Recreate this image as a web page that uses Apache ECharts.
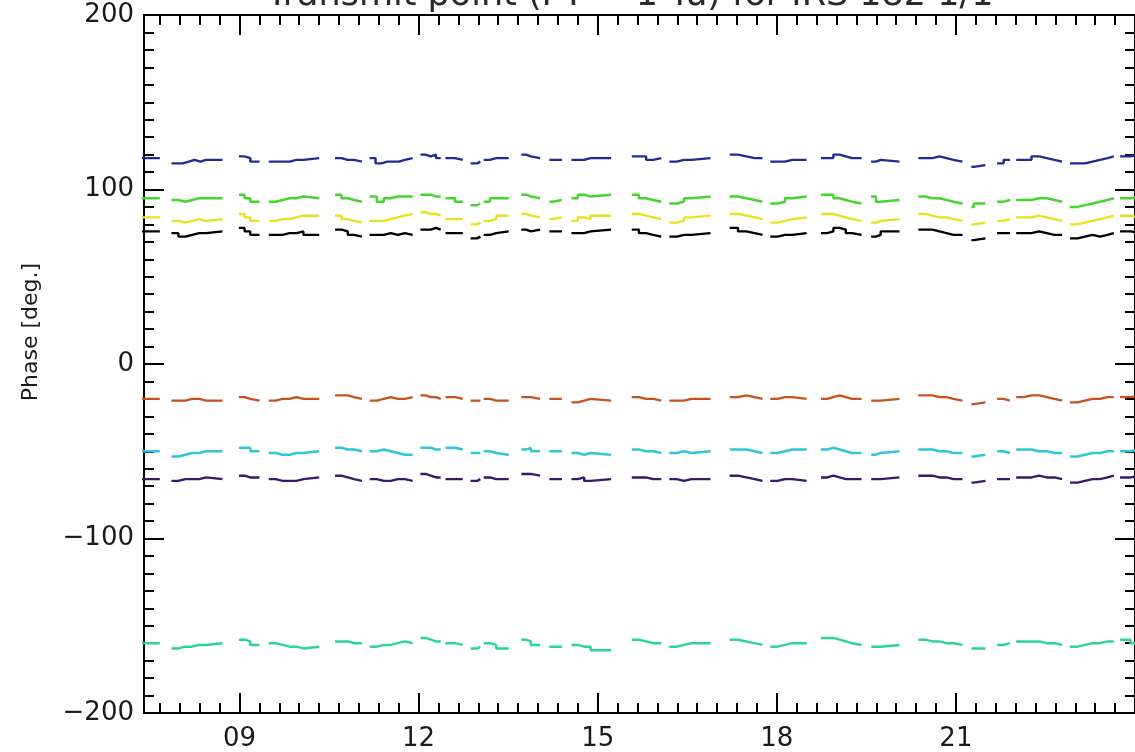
<!DOCTYPE html>
<html>
<head>
<meta charset="utf-8">
<script src="https://cdn.jsdelivr.net/npm/echarts@6/dist/echarts.min.js"></script>
<style>html,body{margin:0;padding:0;background:#fff}#c{width:1135px;height:752px}</style>
</head>
<body>
<div id="c"></div>
<script>
const titleText = 'Transmit point (PT = 1 Tu) for IRS 182 1/1';
const yName = 'Phase [deg.]';
const xTickVals = [9, 12, 15, 18, 21];
const xTickLabels = ['09', '12', '15', '18', '21'];
const yTickLabels = {'200': '200', '100': '100', '0': '0', '-100': '\u2212100', '-200': '\u2212200'};

// observation segments (hours UT): start / end
const segStart = [7.30, 7.86, 8.99, 9.49, 10.60, 11.18, 12.03, 12.45, 12.87, 13.09, 13.72, 14.19, 14.56, 15.57, 16.20, 17.21, 17.89, 18.74, 19.58, 20.37, 21.26, 21.69, 22.01, 22.91, 23.75];
const segEnd   = [7.47, 8.44, 9.18, 10.07, 10.92, 11.77, 12.29, 12.61, 12.98, 13.30, 13.88, 14.24, 14.88, 15.93, 16.57, 17.63, 18.26, 19.26, 19.74, 20.96, 21.30, 21.80, 22.65, 23.54, 24.10];

const blue = [[118,118],[115,115,116,117,116,117,117],[119,118,116],[116,116,116,117,117,118],[118,117,117,116],[118,115,116,116,116,117,118],[120,119,120,118],[118,117],[115,116],[117,118,118],[120,119,118],[117,117],[117,117,118,118],[119,119,117,118],[116,117,117,118],[120,119,118,118],[116,116,117,117],[118,118,120,119,118,118],[116,117,116],[118,118,119,118,117,116],[113,114],[115,117],[117,117,119,118,117,116],[115,115,116,117,118,119],[119,120,120]];
const green = [[95,95],[94,93,94,95,95,95],[97,95,93],[93,94,95,95,96,95],[97,95,94,93],[96,93,95,96,96,96],[97,97,96,96],[95,93],[91,92],[93,95,95],[97,96,95],[93,94],[95,97,96,97],[97,95,94,93],[92,93,95,96],[96,95,94,93],[92,93,95,96],[97,97,95,94,93,92],[96,93,94],[96,95,95,94,93,92],[90,92],[93,94],[94,94,95,95,94,93],[90,91,92,93,94,95],[95,96,97]];
const yellow = [[84,84],[82,81,82,83,82,83],[86,84,82],[82,83,83,84,85,85],[85,83,82,81],[82,82,83,84,85,86],[87,86,86,85],[83,83],[80,81],[82,83,85],[86,85,84],[83,84],[82,84,83,85],[86,85,84,83],[81,82,84,85],[86,85,84,83],[81,82,83,84],[86,86,85,84,83,82],[81,82,83],[86,85,84,84,83,82],[80,81],[82,83],[84,84,85,84,83,82],[80,81,82,83,84,85],[85,84,83]];
const black = [[76,76],[75,73,74,75,75,76],[78,76,74],[74,74,75,75,76,74],[77,76,74,73],[74,74,75,74,75,74],[77,77,78,77],[75,75],[72,73],[74,75,76],[77,76,77],[76,76],[75,75,76,77],[77,75,74,73],[73,74,74,75],[78,76,75,74],[73,74,74,75],[75,76,78,77,75,74],[73,74,76],[77,77,76,75,74,74],[71,72],[75,75],[75,75,76,75,74,74],[72,73,74,73,74,75],[76,75,76]];
const orange = [[-20,-20],[-21,-21,-20,-20,-21,-21],[-19,-20,-21],[-21,-20,-20,-19,-20,-20],[-18,-18,-19,-20],[-21,-20,-19,-20,-20,-19],[-18,-19,-19,-20],[-19,-20],[-21,-21],[-20,-21,-21],[-19,-19,-20],[-20,-20],[-22,-21,-20,-21],[-19,-20,-20,-21],[-21,-21,-20,-20],[-19,-18,-19,-20],[-20,-19,-19,-20],[-20,-19,-18,-19,-20,-20],[-21,-21,-20],[-18,-18,-19,-19,-20,-21],[-23,-22],[-20,-21],[-19,-18,-18,-19,-20,-21],[-22,-21,-20,-20,-19,-19],[-19,-18,-18]];
const cyan = [[-50,-50],[-53,-52,-51,-51,-50,-50],[-48,-48,-50],[-51,-52,-52,-51,-51,-50],[-48,-49,-49,-50],[-50,-49,-50,-51,-52,-52],[-48,-48,-49,-49],[-48,-49],[-51,-51],[-50,-51,-52],[-49,-48,-50],[-50,-50],[-51,-52,-51,-52],[-49,-50,-50,-51],[-51,-50,-51,-50],[-49,-49,-50,-51],[-51,-50,-49,-49],[-49,-48,-49,-50,-51,-51],[-52,-51,-50],[-49,-49,-50,-50,-51,-51],[-53,-52],[-50,-51],[-49,-49,-50,-50,-51,-51],[-53,-52,-51,-51,-50,-50],[-50,-49,-49]];
const purple = [[-66,-66],[-67,-66,-66,-66,-65,-66],[-64,-65,-65],[-66,-67,-67,-67,-66,-65],[-64,-65,-66,-67],[-66,-67,-67,-66,-66,-67],[-63,-64,-65,-65],[-66,-66],[-67,-66],[-65,-66,-66],[-63,-63,-64],[-66,-66],[-66,-65,-67,-66],[-65,-65,-66,-66],[-66,-67,-66,-66],[-64,-65,-66,-67],[-67,-66,-66,-67],[-65,-64,-65,-66,-66,-66],[-66,-66,-65],[-64,-64,-65,-65,-66,-66],[-68,-67],[-66,-66],[-65,-65,-64,-65,-65,-66],[-68,-67,-66,-66,-65,-64],[-65,-64,-64]];
const teal = [[-160,-160],[-163,-162,-162,-161,-161,-160],[-158,-159,-161],[-160,-161,-162,-162,-163,-162],[-159,-159,-160,-160],[-162,-161,-161,-160,-159,-160],[-157,-158,-159,-159],[-160,-161],[-163,-162],[-160,-161,-163],[-158,-159,-161],[-162,-162],[-161,-162,-162,-164],[-158,-159,-160,-160],[-162,-161,-160,-160],[-158,-159,-160,-161],[-162,-161,-160,-160],[-157,-157,-158,-159,-160,-161],[-162,-162,-161],[-158,-159,-159,-160,-160,-161],[-163,-163],[-161,-160],[-159,-159,-159,-160,-160,-161],[-162,-161,-160,-160,-159,-159],[-158,-160,-161]];

const seriesDefs = [
  {name: 'b', vals: blue, color: '#1f2c94'},
  {name: 'g', vals: green, color: '#46d42e'},
  {name: 'y', vals: yellow, color: '#e8e21c'},
  {name: 'k', vals: black, color: '#000000'},
  {name: 'o', vals: orange, color: '#c8521e'},
  {name: 'c', vals: cyan, color: '#2ec6d8'},
  {name: 'p', vals: purple, color: '#3a176e'},
  {name: 't', vals: teal, color: '#2bd49a'}
];

function build(segs) {
  const out = [];
  segs.forEach((vals, k) => {
    const a = segStart[k], b = segEnd[k];
    vals.forEach((v, i) => {
      out.push([vals.length > 1 ? a + (b - a) * i / (vals.length - 1) : a, v]);
    });
    if (k < segs.length - 1) out.push([(b + segStart[k + 1]) / 2, '-']);
  });
  return out;
}

const XMIN = 7.4, XMAX = 24;
const minorX = [];
for (let m = 7 * 3 + 2; m < 24 * 3; m++) {
  const h = m / 3;
  if (h > XMIN && m % 9 !== 0) minorX.push(h);
}

const FONT = 'DejaVu Sans';
const axisLineStyle = {color: '#000', width: 2};

function xAx(pos, vals, len, withLabel) {
  return {
    type: 'value', position: pos, min: XMIN, max: XMAX, gridIndex: 0,
    axisLine: {show: true, onZero: false, lineStyle: axisLineStyle},
    axisTick: {show: true, inside: true, length: len, customValues: vals, lineStyle: {color: '#000', width: 2}},
    axisLabel: withLabel ? {
      show: true, customValues: xTickVals, margin: 13, fontSize: 26, fontFamily: FONT, color: '#1a1a1a',
      formatter: v => { const i = xTickVals.findIndex(t => Math.abs(t - v) < 1e-6); return i >= 0 ? xTickLabels[i] : ''; }
    } : {show: false},
    splitLine: {show: false}
  };
}
function yAx(pos, withLabel) {
  return {
    type: 'value', position: pos, min: -200, max: 200, interval: 100,
    axisLine: {show: true, onZero: false, lineStyle: axisLineStyle},
    axisTick: {show: true, inside: true, length: 20, lineStyle: {color: '#000', width: 2}},
    minorTick: {show: true, splitNumber: 10, length: 10, lineStyle: {color: '#000', width: 2}},
    axisLabel: withLabel ? {show: true, margin: 10, fontSize: 26, fontFamily: FONT, color: '#1a1a1a',
      formatter: v => yTickLabels[String(v)]} : {show: false},
    splitLine: {show: false}, minorSplitLine: {show: false}
  };
}

const chart = echarts.init(document.getElementById('c'), null, {renderer: 'canvas'});
chart.setOption({
  animation: false,
  backgroundColor: '#fff',
  grid: {left: 144, top: 15, width: 993, height: 698, containLabel: false},
  graphic: [
    {type: 'text', x: 0, y: 0, style: {text: titleText, x: 630, y: 13, textAlign: 'center', textVerticalAlign: 'bottom', fontSize: 35, fontFamily: FONT, fill: '#2a2a2a'}},
    {type: 'text', x: 31, y: 332, rotation: Math.PI / 2, style: {text: yName, textAlign: 'center', textVerticalAlign: 'middle', fontSize: 22, fontFamily: FONT, fill: '#1a1a1a'}}
  ],
  xAxis: [
    xAx('bottom', xTickVals, 20, true),
    xAx('bottom', minorX, 10, false),
    xAx('top', xTickVals, 20, false),
    xAx('top', minorX, 10, false)
  ],
  yAxis: [yAx('left', true), yAx('right', false)],
  series: seriesDefs.map(s => ({
    type: 'line', name: s.name, xAxisIndex: 0, yAxisIndex: 0,
    data: build(s.vals), step: 'end', showSymbol: false, symbol: 'none',
    connectNulls: false, clip: true,
    lineStyle: {color: s.color, width: 2.4}, itemStyle: {color: s.color}
  }))
});
</script>
</body>
</html>
